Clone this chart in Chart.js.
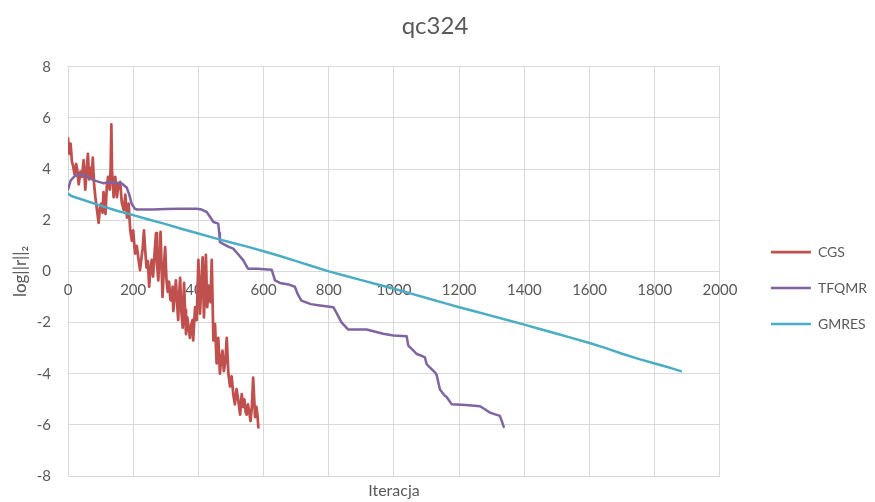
<!DOCTYPE html>
<html>
<head>
<meta charset="utf-8">
<title>qc324</title>
<script src="https://cdn.jsdelivr.net/npm/chart.js@4.4.1/dist/chart.umd.min.js"></script>
<style>
  html, body { margin: 0; padding: 0; background: #ffffff; }
  #wrap { width: 875px; height: 502px; }
</style>
</head>
<body>
<div id="wrap"><canvas id="chart" width="875" height="502"></canvas></div>
<script>
// Residual history for the qc324 system: log of the residual norm per iteration
const chartTitle = 'qc324';
const xAxisTitle = 'Iteracja';
const yAxisTitle = 'log||r||\u2082';
const seriesNames = ['CGS', 'TFQMR', 'GMRES'];
const seriesColors = ['#C0504D', '#8064A2', '#4BACC6'];

const xTicks = [0, 200, 400, 600, 800, 1000, 1200, 1400, 1600, 1800, 2000];
const yTicks = [-8, -6, -4, -2, 0, 2, 4, 6, 8];

const cgsIter = [0, 4, 8, 12, 16, 20, 25, 28, 33, 38, 43, 48, 53, 57, 61, 65, 69, 73, 76, 80,
  84, 89, 94, 98, 102, 106, 109, 115, 119, 123, 128, 131, 133, 135, 140, 145, 150, 155, 160, 165,
  171, 176, 181, 186, 191, 196, 200, 204, 206, 211, 216, 221, 226, 229, 233, 237, 241, 245, 249, 253,
  257, 261, 265, 270, 273, 277, 281, 284, 287, 290, 294, 298, 302, 306, 310, 314, 318, 321, 323, 327,
  331, 335, 338, 341, 344, 348, 352, 356, 359, 362, 366, 370, 374, 378, 382, 384, 387, 390, 395, 400,
  405, 409, 413, 417, 420, 423, 427, 432, 437, 441, 446, 451, 456, 461, 466, 470, 474, 478, 483, 487,
  492, 497, 502, 507, 512, 517, 522, 528, 533, 537, 541, 545, 548, 552, 556, 560, 564, 568, 572, 574,
  578, 581, 584];
const cgsLog = [5.2, 4.6, 5.0, 4.3, 4.1, 3.8, 4.2, 4.0, 3.4, 3.9, 3.7, 4.35, 3.2, 3.9, 4.6, 3.6, 4.05, 3.7, 4.45, 3.4,
  2.9, 2.4, 1.9, 2.5, 2.65, 2.3, 3.1, 2.25, 3.3, 3.7, 3.2, 4.1, 5.75, 3.95, 2.9, 3.7, 2.9, 3.4, 3.5, 2.7,
  2.4, 3.0, 2.1, 2.65, 1.6, 1.2, 1.6, 0.95, 0.7, 1.0, 0.5, 0.05, 0.6, 0.9, 1.6, 0.8, 0.15, 0.4, -0.6, 0.1,
  0.45, -0.2, 0.6, 1.5, 0.3, -0.35, 0.7, 1.55, 0.2, -1.0, 0.1, 0.95, -0.3, -0.8, -0.4, -1.1, -1.15, -0.6, -1.55, -1.0,
  -0.35, -1.3, -1.9, -0.9, -0.25, -1.6, -2.2, -0.45, -1.5, -2.45, -1.8, -2.2, -2.6, -2.1, -1.9, -2.7, -2.0, -1.4, -1.9, 0.45,
  -1.65, -0.5, 0.55, -1.8, -0.8, 0.65, -1.4, -0.6, -1.2, 0.45, -2.7, -2.05, -3.6, -2.6, -4.0, -3.4, -3.1, -3.9, -3.5, -2.6,
  -4.0, -4.5, -4.1, -4.8, -5.2, -4.6, -5.0, -5.6, -4.8, -5.3, -5.0, -5.5, -5.6, -5.2, -5.5, -5.85, -5.3, -4.15, -5.2, -5.7,
  -5.3, -5.6, -6.1];

const tfqmrIter = [0, 8, 20, 37, 55, 78, 95, 108, 125, 139, 165, 180, 188, 195, 205, 211, 260, 300, 340, 395,
  410, 425, 435, 446, 461, 464, 466, 480, 495, 507, 520, 538, 548, 553, 580, 625, 635, 650, 676, 696,
  705, 716, 745, 773, 814, 825, 839, 859, 916, 940, 967, 998, 1039, 1044, 1060, 1070, 1085, 1095, 1100, 1105,
  1126, 1131, 1141, 1156, 1161, 1177, 1220, 1264, 1280, 1294, 1325, 1337];
const tfqmrLog = [3.2, 3.55, 3.72, 3.8, 3.72, 3.57, 3.5, 3.45, 3.48, 3.49, 3.44, 3.28, 3.0, 2.65, 2.45, 2.42, 2.42, 2.44, 2.45, 2.45,
  2.42, 2.33, 2.15, 1.93, 1.87, 1.5, 1.15, 1.05, 0.95, 0.89, 0.7, 0.43, 0.2, 0.1, 0.1, 0.06, -0.35, -0.45, -0.51, -0.6,
  -0.9, -1.14, -1.28, -1.33, -1.4, -1.65, -1.99, -2.27, -2.27, -2.35, -2.44, -2.51, -2.54, -2.9, -3.1, -3.23, -3.3, -3.36, -3.62, -3.69,
  -3.95, -4.05, -4.62, -4.86, -4.9, -5.19, -5.22, -5.27, -5.4, -5.52, -5.65, -6.08];

const gmresIter = [0, 10, 50, 100, 150, 200, 250, 300, 350, 400, 450, 500, 550, 600, 650, 700, 750, 800, 850, 900,
  950, 1000, 1050, 1100, 1150, 1200, 1250, 1300, 1350, 1400, 1450, 1500, 1550, 1600, 1650, 1700, 1750, 1800, 1850, 1880];
const gmresLog = [3.05, 2.95, 2.78, 2.57, 2.37, 2.2, 2.02, 1.85, 1.66, 1.48, 1.3, 1.13, 0.97, 0.79, 0.6, 0.4, 0.2, 0.0, -0.17, -0.34,
  -0.51, -0.68, -0.86, -1.04, -1.22, -1.4, -1.57, -1.74, -1.91, -2.08, -2.26, -2.44, -2.62, -2.8, -3.0, -3.22, -3.42, -3.6, -3.78, -3.9];

const iterations = [cgsIter, tfqmrIter, gmresIter];
const logResiduals = [cgsLog, tfqmrLog, gmresLog];

const fontFamily = 'Lato, "Open Sans", "DejaVu Sans", sans-serif';
const textColor = '#595959';
const gridColor = '#d9d9d9';

// Moves the legend column away from the plot area and down to mid-height,
// and recentres the title over the whole canvas
const blockPlacement = {
  id: 'blockPlacement',
  afterLayout(chart) {
    const lg = chart.legend;
    if (lg) {
      const dx = 29, dy = 223;
      lg.left += dx; lg.right += dx;
      lg.top += dy; lg.bottom += dy;
    }
    const tb = chart.titleBlock;
    if (tb) {
      tb.left += 8; tb.right += 8;
    }
  }
};

const datasets = seriesNames.map((name, i) => ({
  label: name,
  data: iterations[i].map((x, k) => ({ x: x, y: logResiduals[i][k] })),
  borderColor: seriesColors[i],
  backgroundColor: seriesColors[i],
  borderWidth: i === 0 ? 2.75 : 2.5,
  pointRadius: 0,
  tension: 0,
  borderJoinStyle: 'round',
  borderCapStyle: 'round',
  order: seriesNames.length - i
}));

const plainNumber = (v) => String(v);

new Chart(document.getElementById('chart'), {
  type: 'line',
  data: { datasets: datasets },
  plugins: [blockPlacement],
  options: {
    responsive: false,
    animation: false,
    devicePixelRatio: 1,
    layout: { padding: { left: 6, right: 27, top: 0, bottom: 0 } },
    plugins: {
      title: {
        display: true,
        text: chartTitle,
        color: textColor,
        font: { family: fontFamily, size: 24, weight: 'normal' },
        padding: { top: 12, bottom: 26 }
      },
      legend: {
        display: true,
        position: 'right',
        align: 'start',
        labels: {
          color: textColor,
          font: { family: fontFamily, size: 14 },
          usePointStyle: true,
          pointStyle: 'line',
          pointStyleWidth: 40,
          padding: 22,
          sort: (a, b) => a.datasetIndex - b.datasetIndex
        }
      },
      tooltip: { enabled: false }
    },
    scales: {
      x: {
        type: 'linear',
        axis: 'x',
        position: { y: 0 },
        min: 0,
        max: 2000,
        afterBuildTicks: (s) => { s.ticks = xTicks.map(v => ({ value: v })); },
        ticks: {
          color: textColor,
          font: { family: fontFamily, size: 15 },
          padding: 10,
          maxRotation: 0,
          autoSkip: false,
          callback: plainNumber
        },
        grid: { color: gridColor, drawTicks: false },
        border: { display: false }
      },
      xTitle: {
        type: 'linear',
        axis: 'x',
        position: 'bottom',
        min: 0,
        max: 2000,
        ticks: { display: false },
        grid: { display: false, drawTicks: false },
        border: { display: false },
        title: {
          display: true,
          text: xAxisTitle,
          color: textColor,
          font: { family: fontFamily, size: 16 },
          padding: { top: 5, bottom: 0 }
        }
      },
      y: {
        type: 'linear',
        position: 'left',
        min: -8,
        max: 8,
        afterBuildTicks: (s) => { s.ticks = yTicks.map(v => ({ value: v })); },
        afterFit: (s) => { s.width = 62; },
        ticks: {
          color: textColor,
          font: { family: fontFamily, size: 15 },
          padding: 17,
          callback: plainNumber
        },
        grid: { color: gridColor, drawTicks: false },
        border: { display: false },
        title: {
          display: true,
          text: yAxisTitle,
          color: textColor,
          font: { family: fontFamily, size: 17 },
          padding: { top: 4, bottom: 4 }
        }
      }
    }
  }
});
</script>
</body>
</html>
